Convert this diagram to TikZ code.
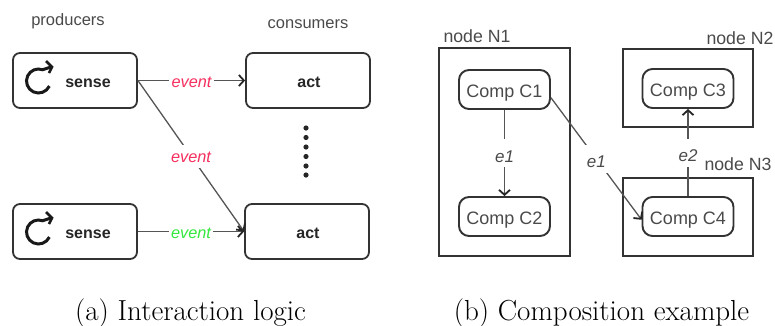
\documentclass[tikz,border=0pt]{standalone}
\usepackage{fontspec}
\setsansfont{Liberation Sans}
\usetikzlibrary{arrows.meta}
\definecolor{inkgray}{HTML}{333333}
\definecolor{wiregray}{HTML}{555555}
\definecolor{textgray}{HTML}{4A4A4A}
\definecolor{eventred}{HTML}{F5305F}
\definecolor{eventgreen}{HTML}{35E83F}
\tikzset{
    >={Straight Barb[length=5pt,width=11pt,line width=1.8pt,color=black!85]},
    logicbox/.style={draw=inkgray,line width=1.8pt,rounded corners=7pt,minimum width=124pt,minimum height=55pt},
    compbox/.style={draw=inkgray,line width=1.9pt,rounded corners=10pt,minimum width=91pt,minimum height=39pt,
        inner sep=0pt,text height=16pt,text depth=0pt,font=\sffamily\fontsize{18}{20}\selectfont,text=textgray},
    hostbox/.style={draw=inkgray,line width=2pt,inner sep=0pt},
    boxtext/.style={font=\sffamily\bfseries\fontsize{16}{18}\selectfont,text=black!85,inner sep=0pt},
    headtext/.style={font=\sffamily\fontsize{16.5}{18}\selectfont,text=textgray,inner sep=0pt},
    hosttext/.style={font=\sffamily\fontsize{17.7}{20}\selectfont,text=textgray,inner sep=0pt},
    wire/.style={draw=wiregray,line width=1.3pt,->},
    eventtext/.style={fill=white,inner xsep=2.5pt,inner ysep=5pt,text height=13pt,text depth=0pt,font=\sffamily\itshape\fontsize{16.3}{18}\selectfont},
    edgetext/.style={fill=white,inner ysep=5pt,inner xsep=2pt,text height=18pt,text depth=0pt,text=textgray,font=\sffamily\itshape\fontsize{17}{18}\selectfont},
    captiontext/.style={font=\fontsize{29}{34}\selectfont,inner sep=0pt}
}
\begin{document}
\begin{tikzpicture}[x=1pt,y=-1pt]
    \useasboundingbox (0,0) rectangle (775,325);
    % left part
    \node[headtext] (producers) at (68,21) {producers};
    \node[headtext] (consumers) at (308,24) {consumers};
    \node[logicbox] (sense1) at (75,80.5) {};
    \node[logicbox] (sense2) at (75,231.5) {};
    \node[logicbox] (act1) at (308,80.5) {};
    \node[logicbox] (act2) at (307,231.5) {};
    \node[boxtext] at (88,83) (sensetext1) {sense};
    \node[boxtext] at (88,234) (sensetext2) {sense};
    \node[boxtext] at (309,82) (acttext1) {act};
    \node[boxtext] at (308,233) (acttext2) {act};
    \draw[wire] (sense1) -- node[eventtext,text=eventred] (event1) {event} (act1);
    \draw[wire] (sense1.east) -- node[eventtext,text=eventred] (event2) {event} (act2.west);
    \draw[wire] (sense2) -- node[eventtext,text=eventgreen] (event3) {event} (act2);
    % loop icons, y axis points down here
    \foreach \y in {81,232}{
        \draw[line width=3pt,black!90] (38.5,\y) ++(25:12) arc[start angle=25,end angle=290,radius=12] -- (51,\y-14);
        \draw[line width=2.6pt,black!90] (46,\y-20) -- (52,\y-14) -- (49,\y-8);
    }
    % dots between the consumers
    \foreach \y in {128,137.5,147,156.5,166,175}{
        \fill[black!85] (306,\y) circle (2.6);
    }
    % right part
    \node[hostbox,minimum width=131pt,minimum height=208pt] (N1) at (504.5,152) {};
    \node[hostbox,minimum width=130pt,minimum height=78pt] (N2) at (688,88) {};
    \node[hostbox,minimum width=130pt,minimum height=78pt] (N3) at (688,217) {};
    \node[hosttext] (labelN1) at (477,36) {node N1};
    \node[hosttext] (labelN2) at (740,38) {node N2};
    \node[hosttext] (labelN3) at (738,164) {node N3};
    \node[compbox] (C1) at (504.5,89.5) {Comp C1};
    \node[compbox] (C2) at (504.5,216.5) {Comp C2};
    \node[compbox] (C3) at (688,88.5) {Comp C3};
    \node[compbox] (C4) at (688,216.5) {Comp C4};
    \draw[wire] (C1) -- node[edgetext] (e1a) {e1} (C2);
    \draw[wire] (C1.-10) -- node[edgetext] (e1b) {e1} (C4.184.4);
    \draw[wire] (C4) -- node[edgetext] (e2) {e2} (C3);
    % captions
    \node[captiontext] (capA) at (190.5,313) {(a) Interaction logic};
    \node[captiontext] (capB) at (601.5,313) {(b) Composition example};
\end{tikzpicture}
\end{document}
